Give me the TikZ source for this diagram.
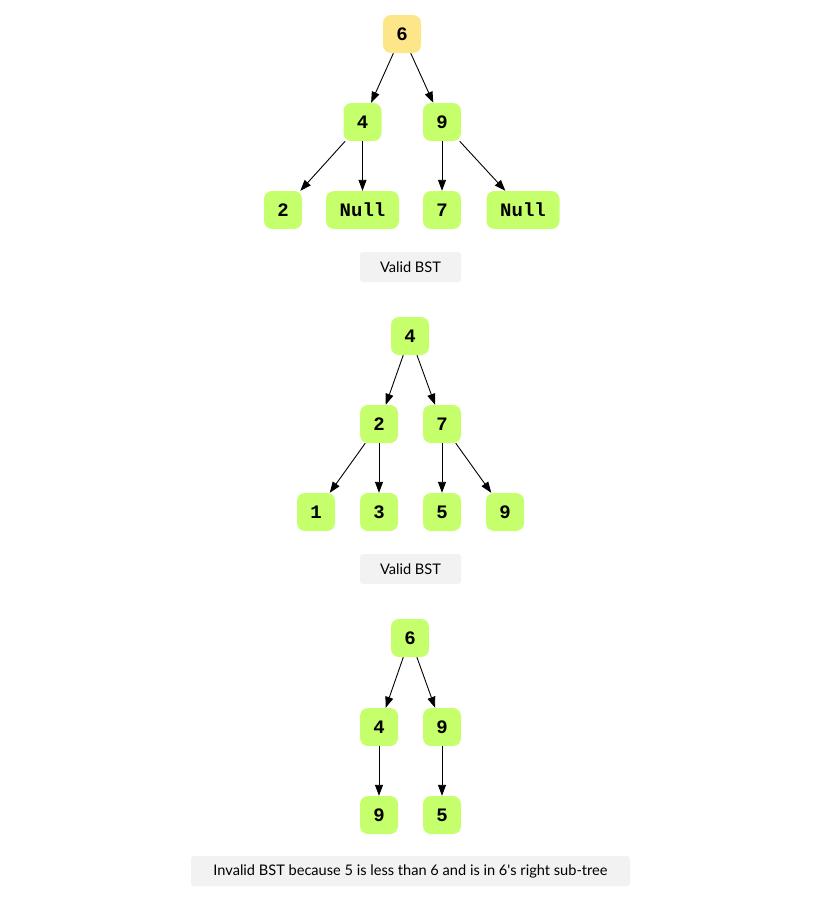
\documentclass[tikz,border=0pt]{standalone}
\usepackage{fontspec}
\setmainfont{Lato}
\newfontfamily\treemono{Liberation Mono}
\usetikzlibrary{arrows.meta}
\definecolor{leaf}{RGB}{198,255,108}
\definecolor{rootc}{RGB}{253,230,138}
\definecolor{capbg}{RGB}{242,242,242}
\tikzset{
  tn/.style={fill=leaf, rounded corners=8pt, minimum width=38pt, minimum height=38pt,
    inner sep=0pt, font=\treemono\bfseries\fontsize{19}{19}\selectfont},
  wide/.style={minimum width=73pt},
  top/.style={fill=rootc},
  caption/.style={fill=capbg, rounded corners=3pt, minimum height=30pt,
    inner sep=0pt, font=\fontsize{14.6}{14.6}\selectfont},
  edge/.style={-{Triangle[length=11pt,width=8pt]}, line width=0.9pt}
}
\begin{document}
\begin{tikzpicture}[x=1pt,y=-1pt]
\useasboundingbox (0,0) rectangle (813,910);
% first tree
\node[tn,top] (a6) at (402,34) {6};
\node[tn] (a4) at (362.5,122) {4};
\node[tn] (a9) at (442,122) {9};
\node[tn] (a2) at (283,210) {2};
\node[tn,wide] (an1) at (362.5,210) {Null};
\node[tn] (a7) at (442,210) {7};
\node[tn,wide] (an2) at (523,210) {Null};
\node[caption, minimum width=101pt] (c1) at (410.5,267) {Valid BST};
\draw[edge] (a6) -- (a4);
\draw[edge] (a6) -- (a9);
\draw[edge] (a4) -- (a2);
\draw[edge] (a4.south) -- (an1.north);
\draw[edge] (a9.south) -- (a7.north);
\draw[edge] (a9) -- (an2);
% second tree
\node[tn] (b4) at (410,336) {4};
\node[tn] (b2) at (379,424) {2};
\node[tn] (b7) at (442,424) {7};
\node[tn] (b1) at (316,512) {1};
\node[tn] (b3) at (379,512) {3};
\node[tn] (b5) at (442,512) {5};
\node[tn] (b9) at (505,512) {9};
\node[caption, minimum width=101pt] (c2) at (410.5,569) {Valid BST};
\draw[edge] (b4) -- (b2);
\draw[edge] (b4) -- (b7);
\draw[edge] (b2) -- (b1);
\draw[edge] (b2) -- (b3);
\draw[edge] (b7) -- (b5);
\draw[edge] (b7) -- (b9);
% third tree
\node[tn] (d6) at (410,638) {6};
\node[tn] (d4) at (379,727) {4};
\node[tn] (d9) at (442,727) {9};
\node[tn] (d9b) at (379,815) {9};
\node[tn] (d5) at (442,815) {5};
\node[caption, minimum width=439pt] (c3) at (410.5,871) {Invalid BST because 5 is less than 6 and is in 6\textquotesingle s right sub-tree};
\draw[edge] (d6) -- (d4);
\draw[edge] (d6) -- (d9);
\draw[edge] (d4) -- (d9b);
\draw[edge] (d9) -- (d5);
\end{tikzpicture}
\end{document}
